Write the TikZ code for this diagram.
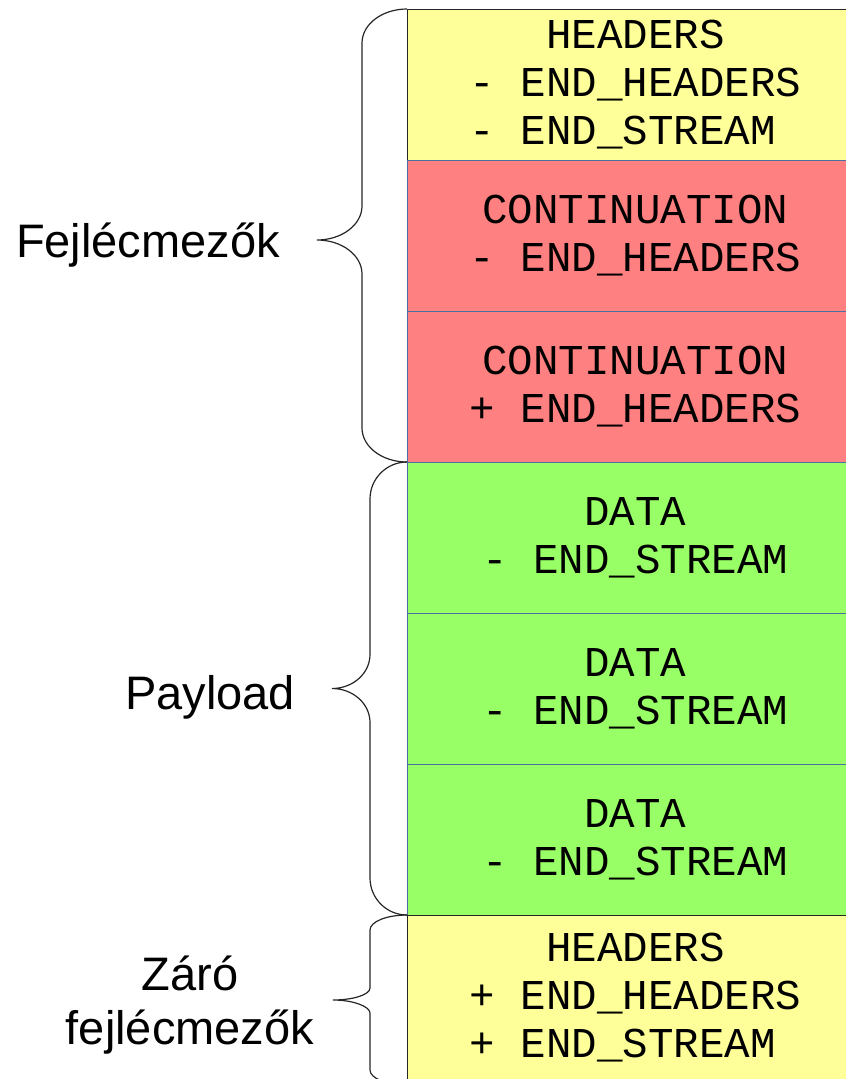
\documentclass[tikz,border=0pt]{standalone}
\usepackage{fontspec}
\setmainfont{Liberation Sans}
\newfontfamily\boxmono{Liberation Mono}
\definecolor{hdr}{HTML}{FFFF99}
\definecolor{cont}{HTML}{FF8080}
\definecolor{dat}{HTML}{99FF66}
\definecolor{edgeblue}{HTML}{4A6FA0}
\tikzset{
  frame/.style={rectangle, anchor=north west, minimum width=456pt, minimum height=151pt,
    inner sep=0pt, align=center, font=\fontsize{42.5}{48}\boxmono},
  hdrbox/.style={frame, fill=hdr, draw=black!85, line width=1pt},
  contbox/.style={frame, fill=cont, draw=edgeblue, line width=1pt},
  datbox/.style={frame, fill=dat, draw=edgeblue, line width=1pt},
  bracepath/.style={draw=black!85, line width=1.2pt},
  lbl/.style={font=\fontsize{47}{54}\selectfont, align=center, inner sep=0pt}
}
\begin{document}
\begin{tikzpicture}[x=1pt,y=-1pt]
\useasboundingbox (0,0) rectangle (846,1079);
\clip (0,0) rectangle (846,1079);
\node[hdrbox] (h1) at (407,9) {HEADERS\\- END\_HEADERS\\- END\_STREAM\hphantom{M}};
\node[contbox] (c1) at (407,160) {CONTINUATION\\- END\_HEADERS};
\node[contbox] (c2) at (407,311) {CONTINUATION\\+ END\_HEADERS};
\node[datbox] (d1) at (407,462) {DATA\\- END\_STREAM};
\node[datbox] (d2) at (407,613) {DATA\\- END\_STREAM};
\node[datbox] (d3) at (407,764) {DATA\\- END\_STREAM};
\node[hdrbox, minimum height=164pt] (h2) at (407,915) {HEADERS\\+ END\_HEADERS\\+ END\_STREAM\hphantom{M}};
% braces
\path[bracepath] (407,9) .. controls (382.2,9) and (362,24.2) .. (362,43)
  -- (362,206) .. controls (362,224.8) and (341.8,240) .. (317,240)
  .. controls (341.8,240) and (362,255.2) .. (362,274)
  -- (362,428) .. controls (362,446.8) and (382.2,462) .. (407,462);
\path[bracepath] (407,462) .. controls (386.6,462) and (370,478.6) .. (370,499)
  -- (370,654.5) .. controls (370,673.3) and (353,688.5) .. (332,688.5)
  .. controls (353,688.5) and (370,703.7) .. (370,722.5)
  -- (370,878) .. controls (370,898.4) and (386.6,915) .. (407,915);
\path[bracepath] (407,915) .. controls (386.6,915) and (370,921.7) .. (370,930)
  -- (370,988) .. controls (370,994.6) and (353.4,1000) .. (333,1000)
  .. controls (353.4,1000) and (370,1006.6) .. (370,1013)
  -- (370,1070) .. controls (370,1078.3) and (386.6,1085) .. (407,1085);
% labels
\node[lbl] (l1) at (148,245) {Fejlécmezők};
\node[lbl] (l2) at (210,697) {Payload};
\node[lbl] (l3) at (190,1005) {Záró\\fejlécmezők};
\end{tikzpicture}
\end{document}
